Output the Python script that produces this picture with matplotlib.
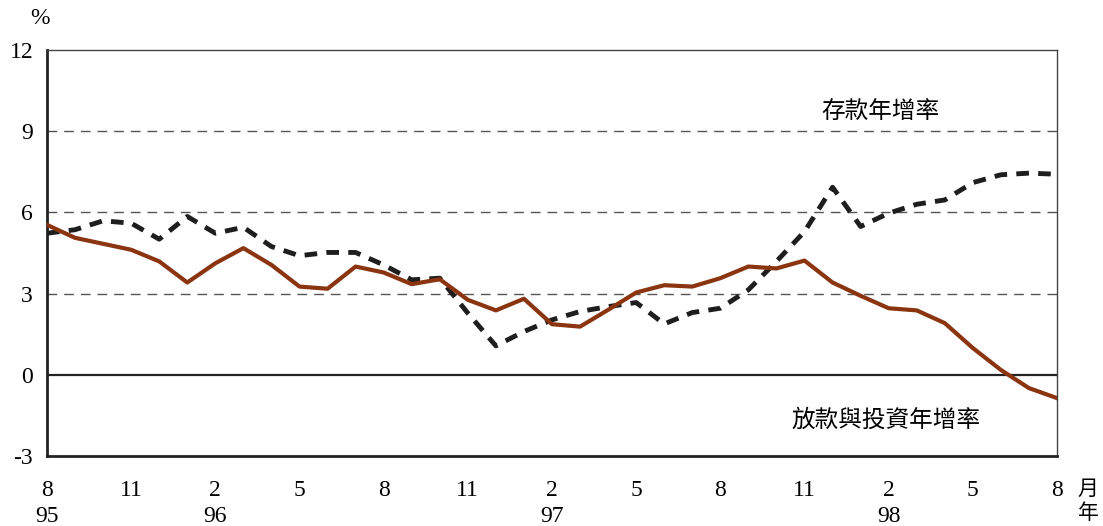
import matplotlib
matplotlib.use("Agg")
import matplotlib.pyplot as plt

# monthly data, Aug 1995 .. Aug 1998
month_labels = ["8", "11", "2", "5", "8", "11", "2", "5", "8", "11", "2", "5", "8"]
year_labels = {0: "95", 6: "96", 18: "97", 30: "98"}

deposits = [5.23, 5.36, 5.69, 5.60, 5.01, 5.85, 5.23, 5.45, 4.74, 4.40,
            4.52, 4.52, 4.06, 3.51, 3.57, 2.28, 1.07, 1.60, 2.03, 2.34,
            2.52, 2.67, 1.88, 2.30, 2.46, 3.14, 4.19, 5.29, 6.93, 5.48,
            5.97, 6.30, 6.46, 7.10, 7.39, 7.45, 7.41]

loans = [5.54, 5.06, 4.84, 4.62, 4.19, 3.41, 4.12, 4.68, 4.06, 3.26,
         3.18, 4.00, 3.78, 3.35, 3.53, 2.77, 2.38, 2.81, 1.87, 1.78,
         2.40, 3.04, 3.31, 3.26, 3.57, 4.00, 3.93, 4.22, 3.41, 2.92,
         2.46, 2.38, 1.91, 0.99, 0.18, -0.49, -0.86]

x = list(range(len(loans)))

serif = "Liberation Serif"
cjk = ["Noto Sans CJK TC", "DejaVu Sans"]

fig = plt.figure(figsize=(11.03, 5.26), dpi=100)
ax = fig.add_axes([0.0426, 0.133, 0.9157, 0.772])

for yv in [3, 6, 9]:
    ax.axhline(yv, color="#555555", lw=1.0, dashes=(7, 5), zorder=1)
ax.axhline(0, color="#222222", lw=1.6, zorder=1)

ax.plot(x, deposits, color="#1e1e1e", lw=3.5, dashes=(2.6, 1.9), zorder=3)
ax.plot(x, loans, color="#8a3510", lw=3.0, zorder=4)

ax.set_xlim(0, 36)
ax.set_ylim(-3, 12)
ax.set_yticks([-3, 0, 3, 6, 9, 12])
ax.set_yticklabels(["-3", "0", "3", "6", "9", "12"], fontfamily=serif, fontsize=17)
ax.set_xticks(range(0, 37, 3))
ax.set_xticklabels(month_labels, fontfamily=serif, fontsize=17)
ax.tick_params(axis="y", length=0, pad=10)
ax.tick_params(axis="x", length=0, pad=17)

for sp in ["left", "bottom"]:
    ax.spines[sp].set_linewidth(2.0)
    ax.spines[sp].set_color("#222222")
for sp in ["top", "right"]:
    ax.spines[sp].set_linewidth(1.0)
    ax.spines[sp].set_color("#444444")

for i, yr in year_labels.items():
    ax.text(i, -0.150, yr, transform=ax.get_xaxis_transform(), ha="center",
            va="center", fontfamily=serif, fontsize=17)

fig.text(1088 / 1103, 1 - 489 / 526, "月", ha="center", va="center",
         fontfamily=cjk, fontsize=15)
fig.text(1088 / 1103, 1 - 513 / 526, "年", ha="center", va="center",
         fontfamily=cjk, fontsize=15)
fig.text(40 / 1103, 1 - 18 / 526, "%", ha="center", va="center",
         fontfamily=serif, fontsize=17)

ax.text(29.7, 9.7, "存款年增率", ha="center", va="center",
        fontfamily=cjk, fontsize=17)
ax.text(29.9, -1.66, "放款與投資年增率", ha="center", va="center",
        fontfamily=cjk, fontsize=17)

fig.savefig("out.png", dpi=100)
